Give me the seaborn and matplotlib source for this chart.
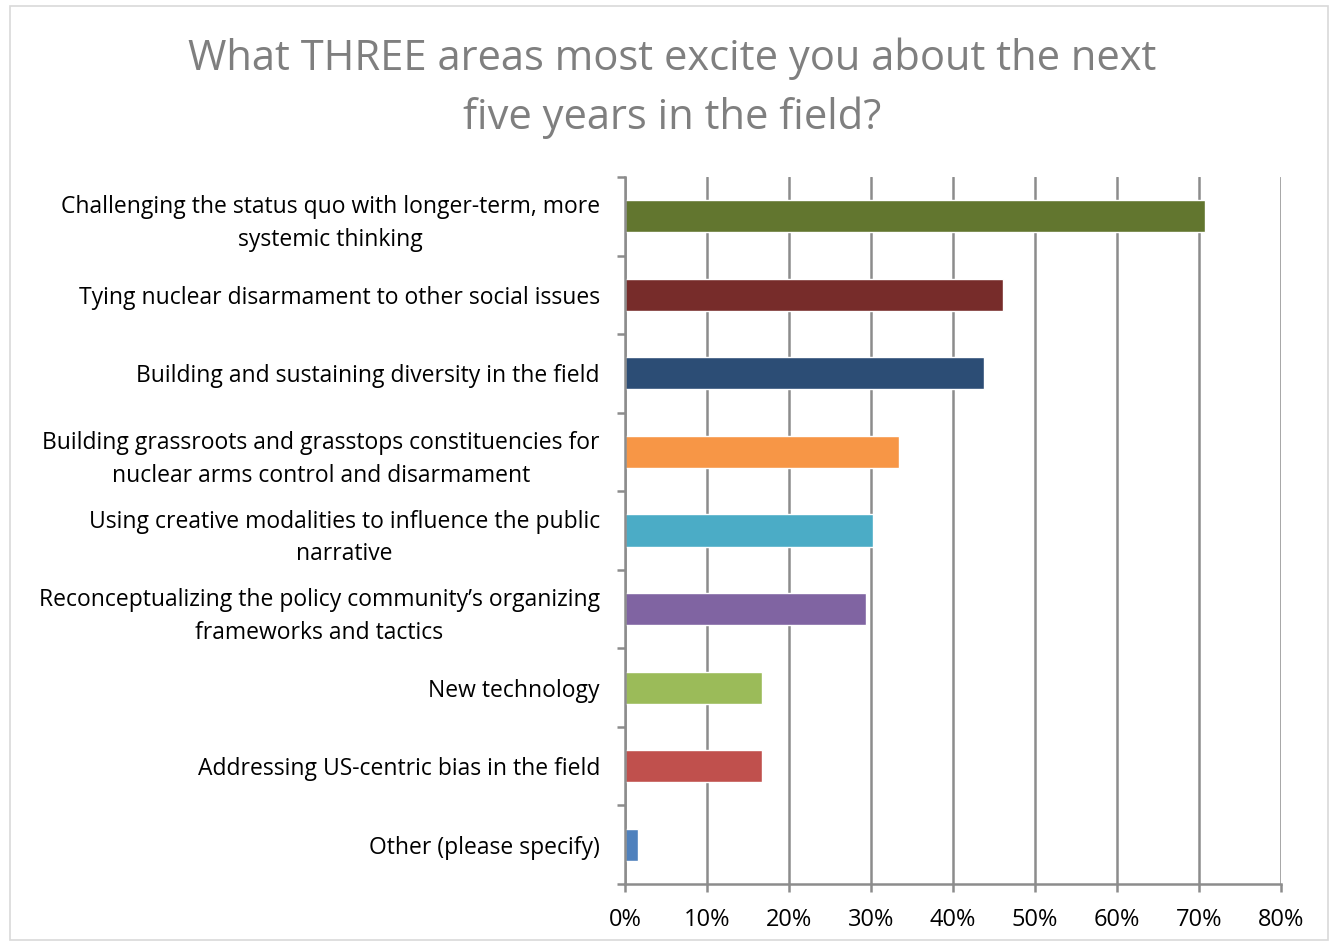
import matplotlib
matplotlib.use("Agg")
import matplotlib.pyplot as plt
import seaborn as sns
import pandas as pd
from matplotlib.ticker import FixedLocator, PercentFormatter
from matplotlib.patches import Rectangle

categories = [
    "Challenging the status quo with longer-term, more\nsystemic thinking",
    "Tying nuclear disarmament to other social issues",
    "Building and sustaining diversity in the field",
    "Building grassroots and grasstops constituencies for\nnuclear arms control and disarmament",
    "Using creative modalities to influence the public\nnarrative",
    "Reconceptualizing the policy community\u2019s organizing\nframeworks and tactics",
    "New technology",
    "Addressing US-centric bias in the field",
    "Other (please specify)",
]
values = [70.7, 46.1, 43.8, 33.4, 30.2, 29.4, 16.7, 16.7, 1.6]
colors = ["#62762F", "#772C2A", "#2C4D75", "#F79646", "#4BACC6",
          "#8064A2", "#9BBB59", "#C0504D", "#4F81BD"]
xticks = [0, 10, 20, 30, 40, 50, 60, 70, 80]
title = "What THREE areas most excite you about the next\nfive years in the field?"

sns.set_theme(style="white")
plt.rcParams['font.family'] = ['Open Sans', 'DejaVu Sans']

df = pd.DataFrame({"cat": categories, "val": values})

fig = plt.figure(figsize=(13.35, 9.46), dpi=100)
ax = fig.add_axes([625/1335, 1-884/946, (1281-625)/1335, (884-177)/946])

sns.barplot(data=df, y="cat", x="val", hue="cat", palette=colors,
            legend=False, ax=ax, width=0.41, orient="h", saturation=1)

gcol = "#8C8C8C"
ax.set_xlim(0, 80)
ax.set_ylim(len(categories) - 0.5, -0.5)
ax.xaxis.set_major_locator(FixedLocator(xticks))
ax.xaxis.set_major_formatter(PercentFormatter(decimals=0))
ax.grid(axis="x", color=gcol, linewidth=1.8)
ax.set_axisbelow(True)
ax.set_xlabel("")
ax.set_ylabel("")
for s in ["top", "right"]:
    ax.spines[s].set_visible(False)
for s in ["left", "bottom"]:
    ax.spines[s].set_color(gcol)
    ax.spines[s].set_linewidth(1.8)

ax.yaxis.set_minor_locator(FixedLocator([i - 0.5 for i in range(len(categories) + 1)]))
ax.tick_params(axis="y", which="major", length=0, pad=18, labelsize=16.5, labelcolor="black")
ax.tick_params(axis="y", which="minor", length=6, width=1.8, color=gcol, left=True)
ax.tick_params(axis="x", which="major", length=6, width=1.8, color=gcol, bottom=True,
               labelsize=17, pad=11, labelcolor="black")
for lab in ax.get_yticklabels():
    lab.set_horizontalalignment("right")
    lab.set_multialignment("center")
    lab.set_linespacing(1.5)

fig.text(672/1335, 1-88/946, title, ha="center", va="center", fontsize=30,
         color="#7F7F7F", linespacing=1.5)

fig.patches.append(Rectangle((10/1335, 6/946), 1318/1335, 934/946, transform=fig.transFigure,
                             fill=False, edgecolor="#D9D9D9", linewidth=1.2))

fig.savefig("out.png", dpi=100)
